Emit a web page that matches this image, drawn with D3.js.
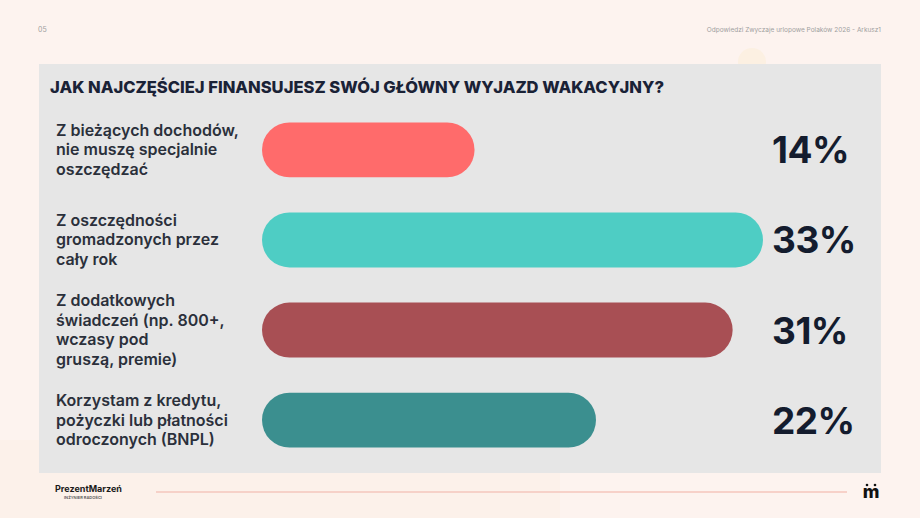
<!DOCTYPE html>
<html>
<head>
<meta charset="utf-8">
<script src="https://cdn.jsdelivr.net/npm/d3@7"></script>
<style>
  html, body { margin: 0; padding: 0; background: #fdf3ef; }
  svg { display: block; font-family: Inter, "Noto Sans", sans-serif; }
</style>
</head>
<body>
<div id="chart"></div>
<script>
'use strict';

// answers, one entry per bar
var categories = [
  ["Z bieżących dochodów,", "nie muszę specjalnie", "oszczędzać"],
  ["Z oszczędności", "gromadzonych przez", "cały rok"],
  ["Z dodatkowych", "świadczeń (np. 800+,", "wczasy pod", "gruszą, premie)"],
  ["Korzystam z kredytu,", "pożyczki lub płatności", "odroczonych (BNPL)"]
]
var values = [14, 33, 31, 22]
var barColors = ["#ff6b6b", "#4ecdc4", "#a84f54", "#3b8f8f"]

var title = "JAK NAJCZĘŚCIEJ FINANSUJESZ SWÓJ GŁÓWNY WYJAZD WAKACYJNY?"
var pageNo = "05"
var source = "Odpowiedzi Zwyczaje urlopowe Polaków 2026 - Arkusz1"

var W = 920, H = 518

var svg = d3.select("#chart").append("svg")
  .attr("width", W).attr("height", H)

svg.append("rect").attr("width", W).attr("height", H).attr("fill", "#fdf3ef")
// faint decorative shapes in the background
svg.append("path")
  .attr("d", "M0,440 L560,440 L560," + H + " L0," + H + "Z")
  .attr("fill", "#fcf1ea")
svg.append("circle").attr("cx", 752).attr("cy", 62).attr("r", 14).attr("fill", "#fcf0e2")

// header
svg.append("text").text(pageNo)
  .attr("x", 38).attr("y", 32)
  .style("font-size", "7px").attr("fill", "#a0a0a0")
svg.append("text").text(source)
  .attr("x", 881).attr("y", 32).attr("text-anchor", "end")
  .style("font-size", "6.5px").attr("fill", "#a0a0a0")

// grey panel
var panel = {x: 39, y: 64, w: 842, h: 409}
svg.append("rect")
  .attr("x", panel.x).attr("y", panel.y)
  .attr("width", panel.w).attr("height", panel.h)
  .attr("fill", "#e6e6e6")

svg.append("text").text(title)
  .attr("x", 50).attr("y", 93)
  .attr("textLength", 614).attr("lengthAdjust", "spacingAndGlyphs")
  .style("font-size", "16.5px").style("font-weight", 800)
  .attr("fill", "#1a2236")

// scales
var x = d3.scaleLinear()
  .domain([0, d3.max(values)])
  .range([0, 501])

var y = d3.scaleBand()
  .domain(d3.range(values.length))
  .range([117, 453])
  .paddingInner(0.39)
  .paddingOuter(0.06)

var barX = 262
var bh = y.bandwidth()

var rows = svg.append("g").selectAll("g")
  .data(values)
  .enter().append("g")
  .attr("transform", function(d, i) { return "translate(0," + y(i) + ")" })

rows.append("rect")
  .attr("x", barX)
  .attr("width", function(d) { return x(d) })
  .attr("height", bh)
  .attr("rx", bh / 2).attr("ry", bh / 2)
  .attr("fill", function(d, i) { return barColors[i] })

var lh = 19.4
rows.append("text")
  .attr("x", 56)
  .style("font-size", "16px").style("font-weight", 600)
  .attr("fill", "#2b303b")
  .each(function(d, i) {
    var lines = categories[i]
    var t = d3.select(this)
    var y0 = bh / 2 - (lines.length - 1) * lh / 2 + 5.5
    lines.forEach(function(l, j) {
      t.append("tspan").attr("x", 56).attr("y", y0 + j * lh).text(l)
    })
  })

rows.append("text")
  .text(function(d) { return d + "%" })
  .attr("x", 772)
  .attr("y", bh / 2 + 13.5)
  .style("font-size", "37px").style("font-weight", 700)
  .style("letter-spacing", "-0.5px")
  .attr("fill", "#141c2e")

// footer
svg.append("text").text("PrezentMarzeń")
  .attr("x", 55).attr("y", 492)
  .style("font-size", "9px").style("font-weight", 700)
  .attr("fill", "#1a1a1a")
svg.append("text").text("INŻYNIER RADOŚCI")
  .attr("x", 64).attr("y", 499)
  .style("font-size", "4px").style("font-weight", 600)
  .attr("fill", "#555")
svg.append("line")
  .attr("x1", 156).attr("x2", 847).attr("y1", 492).attr("y2", 492)
  .attr("stroke", "#f4c6bc").attr("stroke-width", 1.5)
svg.append("text").text("m")
  .attr("x", 871).attr("y", 498).attr("text-anchor", "middle")
  .style("font-size", "18px").style("font-weight", 800)
  .attr("fill", "#111")
svg.append("circle").attr("cx", 867).attr("cy", 485).attr("r", 1.3).attr("fill", "#111")
svg.append("circle").attr("cx", 875).attr("cy", 485).attr("r", 1.3).attr("fill", "#111")
</script>
</body>
</html>
